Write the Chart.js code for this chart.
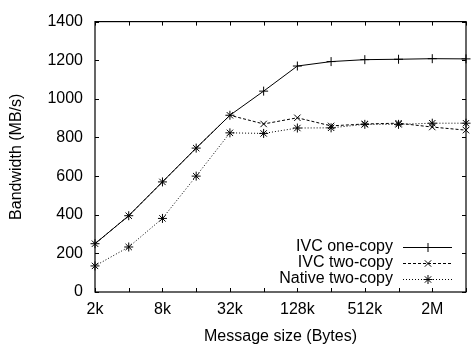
<!DOCTYPE html>
<html>
<head>
<meta charset="utf-8">
<script src="https://cdn.jsdelivr.net/npm/chart.js@4.4.0/dist/chart.umd.min.js"></script>
<style>
  html, body { margin: 0; padding: 0; background: #fff; overflow: hidden; }
  #wrap { width: 474px; height: 349px; }
</style>
</head>
<body>
<div id="wrap"><canvas id="bwChart"></canvas></div>
<script>
const sizes = ['2k', '4k', '8k', '16k', '32k', '64k', '128k', '256k', '512k', '1M', '2M', '4M'];
const ivcOneCopy = [250, 395, 570, 745, 915, 1040, 1170, 1193, 1203, 1205, 1208, 1207];
const ivcTwoCopy = [250, 395, 570, 745, 915, 870, 902, 860, 870, 874, 854, 838];
const nativeTwoCopy = [135, 233, 381, 600, 824, 821, 849, 850, 868, 868, 874, 874];
const yTicks = [0, 200, 400, 600, 800, 1000, 1200, 1400];

const FONT = 'Liberation Sans, Arial, Helvetica, sans-serif';

// frame + inward ticks, gnuplot style
const framePlugin = {
  id: 'frame',
  afterDraw(chart) {
    const ctx = chart.ctx;
    const a = chart.chartArea;
    const xs = chart.scales.x;
    const ys = chart.scales.y;
    ctx.save();
    ctx.strokeStyle = '#000';
    ctx.lineWidth = 1.2;
    ctx.strokeRect(a.left, a.top, a.right - a.left, a.bottom - a.top);
    ctx.lineWidth = 1;
    ctx.beginPath();
    sizes.forEach((s, i) => {
      const x = Math.round(xs.getPixelForValue(i)) + 0.5;
      ctx.moveTo(x, a.bottom); ctx.lineTo(x, a.bottom - 4);
      ctx.moveTo(x, a.top); ctx.lineTo(x, a.top + 4);
    });
    yTicks.forEach(v => {
      const y = Math.round(ys.getPixelForValue(v)) + 0.5;
      ctx.moveTo(a.left, y); ctx.lineTo(a.left + 4, y);
      ctx.moveTo(a.right, y); ctx.lineTo(a.right - 4, y);
    });
    ctx.stroke();
    ctx.restore();
  }
};

// key in the lower right corner
const keyPlugin = {
  id: 'key',
  afterDraw(chart) {
    const ctx = chart.ctx;
    ctx.save();
    ctx.font = '16px ' + FONT;
    ctx.fillStyle = '#000';
    ctx.textAlign = 'right';
    ctx.textBaseline = 'middle';
    chart.data.datasets.forEach((ds, i) => {
      const y = 247 + i * 16;
      ctx.fillText(ds.label, 393, y);
      ctx.strokeStyle = '#000';
      ctx.lineWidth = 1;
      ctx.setLineDash(ds.borderDash || []);
      ctx.beginPath();
      ctx.moveTo(403, y + 0.5); ctx.lineTo(452, y + 0.5);
      ctx.stroke();
      ctx.setLineDash([]);
      Chart.helpers.drawPoint(ctx, {pointStyle: ds.pointStyle, radius: 4.5, borderWidth: 1}, 428, y + 0.5);
    });
    ctx.restore();
  }
};

const ctx = document.getElementById('bwChart').getContext('2d');
window.myChart = new Chart(ctx, {
  type: 'line',
  data: {
    labels: sizes,
    datasets: [{
      label: 'IVC one-copy',
      data: ivcOneCopy,
      borderColor: '#000',
      borderWidth: 1,
      pointStyle: 'cross',
      pointRadius: 4.5,
      pointBorderColor: '#000',
      pointBorderWidth: 1
    }, {
      label: 'IVC two-copy',
      data: ivcTwoCopy,
      borderColor: '#000',
      borderWidth: 1,
      borderDash: [3, 2],
      pointStyle: 'crossRot',
      pointRadius: 4.5,
      pointBorderColor: '#000',
      pointBorderWidth: 1
    }, {
      label: 'Native two-copy',
      data: nativeTwoCopy,
      borderColor: '#000',
      borderWidth: 1,
      borderDash: [1, 2],
      pointStyle: 'star',
      pointRadius: 4.5,
      pointBorderColor: '#000',
      pointBorderWidth: 1
    }]
  },
  options: {
    responsive: true,
    maintainAspectRatio: false,
    animation: false,
    layout: { padding: { top: 11, right: 1, left: 0, bottom: 0 } },
    plugins: {
      legend: { display: false },
      tooltip: { enabled: false }
    },
    elements: { line: { tension: 0 } },
    scales: {
      x: {
        type: 'category',
        offset: false,
        grid: { display: false, drawTicks: false },
        border: { display: false },
        ticks: {
          autoSkip: false,
          maxRotation: 0,
          padding: 8,
          color: '#000',
          font: { family: FONT, size: 16 },
          callback: function (val, idx) { return idx % 2 === 0 ? this.getLabelForValue(val) : ''; }
        },
        title: {
          display: true,
          text: 'Message size (Bytes)',
          color: '#000',
          font: { family: FONT, size: 16 },
          padding: { top: 0, bottom: 3 }
        },
        afterFit: s => { s.height = 57; }
      },
      y: {
        min: 0,
        max: 1400,
        grid: { display: false, drawTicks: false },
        border: { display: false },
        afterBuildTicks: s => { s.ticks = yTicks.map(v => ({ value: v })); },
        ticks: {
          padding: 12,
          color: '#000',
          font: { family: FONT, size: 16 },
          callback: v => String(v)
        },
        title: {
          display: true,
          text: 'Bandwidth (MB/s)',
          color: '#000',
          font: { family: FONT, size: 16 },
          padding: { top: 7, bottom: 0 }
        },
        afterFit: s => { s.width = 95; }
      }
    }
  },
  plugins: [framePlugin, keyPlugin]
});
</script>
</body>
</html>
